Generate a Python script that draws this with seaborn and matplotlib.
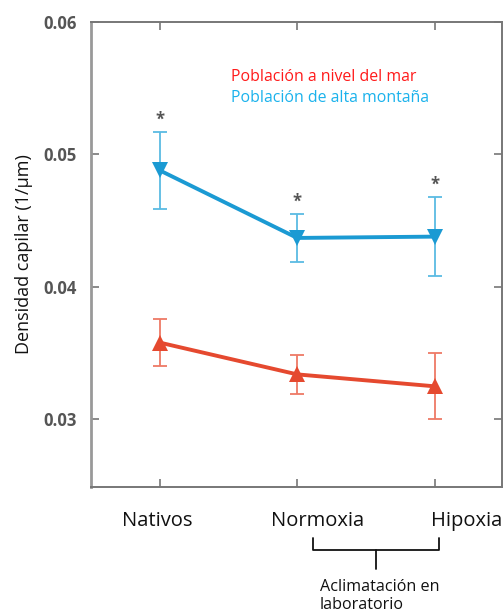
import matplotlib
matplotlib.use("Agg")
import matplotlib.pyplot as plt
import seaborn as sns
import numpy as np
import pandas as pd

categories = ["Nativos", "Normoxia", "Hipoxia"]
alta_vals = [0.0488, 0.0437, 0.0438]
alta_err = [0.0029, 0.0018, 0.0030]
mar_vals = [0.0358, 0.0334, 0.0325]
mar_err = [0.0018, 0.0015, 0.0025]
yticks = [0.03, 0.04, 0.05, 0.06]
ytick_labels = ["0.03", "0.04", "0.05", "0.06"]

sns.set_theme(style="white")
plt.rcParams["font.family"] = ["Open Sans", "DejaVu Sans"]

blue = "#1b9ad3"
blue_err = "#5bbbe3"
red = "#e5492f"
red_err = "#ee7a66"

df = pd.DataFrame({
    "x": list(range(3)) * 2,
    "y": alta_vals + mar_vals,
    "grupo": ["alta"] * 3 + ["mar"] * 3,
})

fig = plt.figure(figsize=(5.04, 6.13), dpi=100)
ax = fig.add_axes([91 / 504, 126 / 613, 411 / 504, 465 / 613])

xs = np.arange(3)
ax.errorbar(xs, alta_vals, yerr=alta_err, fmt="none", ecolor=blue_err, elinewidth=1.3, capsize=5, capthick=1.3, zorder=2)
ax.errorbar(xs, mar_vals, yerr=mar_err, fmt="none", ecolor=red_err, elinewidth=1.3, capsize=5, capthick=1.3, zorder=2)

sns.lineplot(data=df[df.grupo == "alta"], x="x", y="y", ax=ax, color=blue, lw=2.8,
             marker="v", markersize=12, markeredgewidth=0, zorder=3)
sns.lineplot(data=df[df.grupo == "mar"], x="x", y="y", ax=ax, color=red, lw=2.8,
             marker="^", markersize=12, markeredgewidth=0, zorder=3)

# significance stars
for i, (v, e) in enumerate(zip(alta_vals, alta_err)):
    ax.text(i, v + e + 0.0009, "*", ha="center", va="center", fontsize=12,
            color="#555555", fontweight="bold")

ax.set_xlim(-0.5, 2.49)
ax.set_ylim(0.0249, 0.06)
ax.set_yticks(yticks)
ax.set_yticklabels(ytick_labels, fontsize=12, color="#555555", fontweight="bold")
ax.set_xticks(xs)
ax.set_xticklabels([])
ax.tick_params(axis="x", direction="in", length=6, width=1.2, color="#777777", top=True, bottom=True)
ax.tick_params(axis="y", direction="in", length=6, width=1.2, color="#777777", pad=10, left=True, right=True)
ax.set_xlabel("")
ax.set_ylabel("Densidad capilar (1/µm)", fontsize=13, color="#111111", labelpad=8)

for s in ax.spines.values():
    s.set_color("#777777")
    s.set_linewidth(1.4)
ax.spines["left"].set_color("#999999")
ax.spines["left"].set_linewidth(2)

# category labels (offset as in the reference)
label_px = [157, 318, 467]
for lbl, px in zip(categories, label_px):
    fig.text(px / 504, 1 - 521 / 613, lbl, fontsize=14.5, color="#111111", ha="center", va="center")

# legend text
fig.text(231 / 504, 1 - 77 / 613, "Población a nivel del mar", color="#ff1a1a", fontsize=11.4, va="center")
fig.text(231 / 504, 1 - 98 / 613, "Población de alta montaña", color="#1ab2ec", fontsize=11.4, va="center")

# bracket
bx0, bx1, bxm = 313 / 504, 439 / 504, 376 / 504
yt, yb, ys = 1 - 538 / 613, 1 - 550 / 613, 1 - 569 / 613
fig.add_artist(plt.Line2D([bx0, bx0, bx1, bx1], [yt, yb, yb, yt], color="#111111", lw=1.3))
fig.add_artist(plt.Line2D([bxm, bxm], [yb, ys], color="#111111", lw=1.3))
fig.text(320 / 504, 1 - 587 / 613, "Aclimatación en", fontsize=11.6, va="center", color="#111111")
fig.text(320 / 504, 1 - 605 / 613, "laboratorio", fontsize=11.6, va="center", color="#111111")

fig.savefig("out.png", dpi=100)
